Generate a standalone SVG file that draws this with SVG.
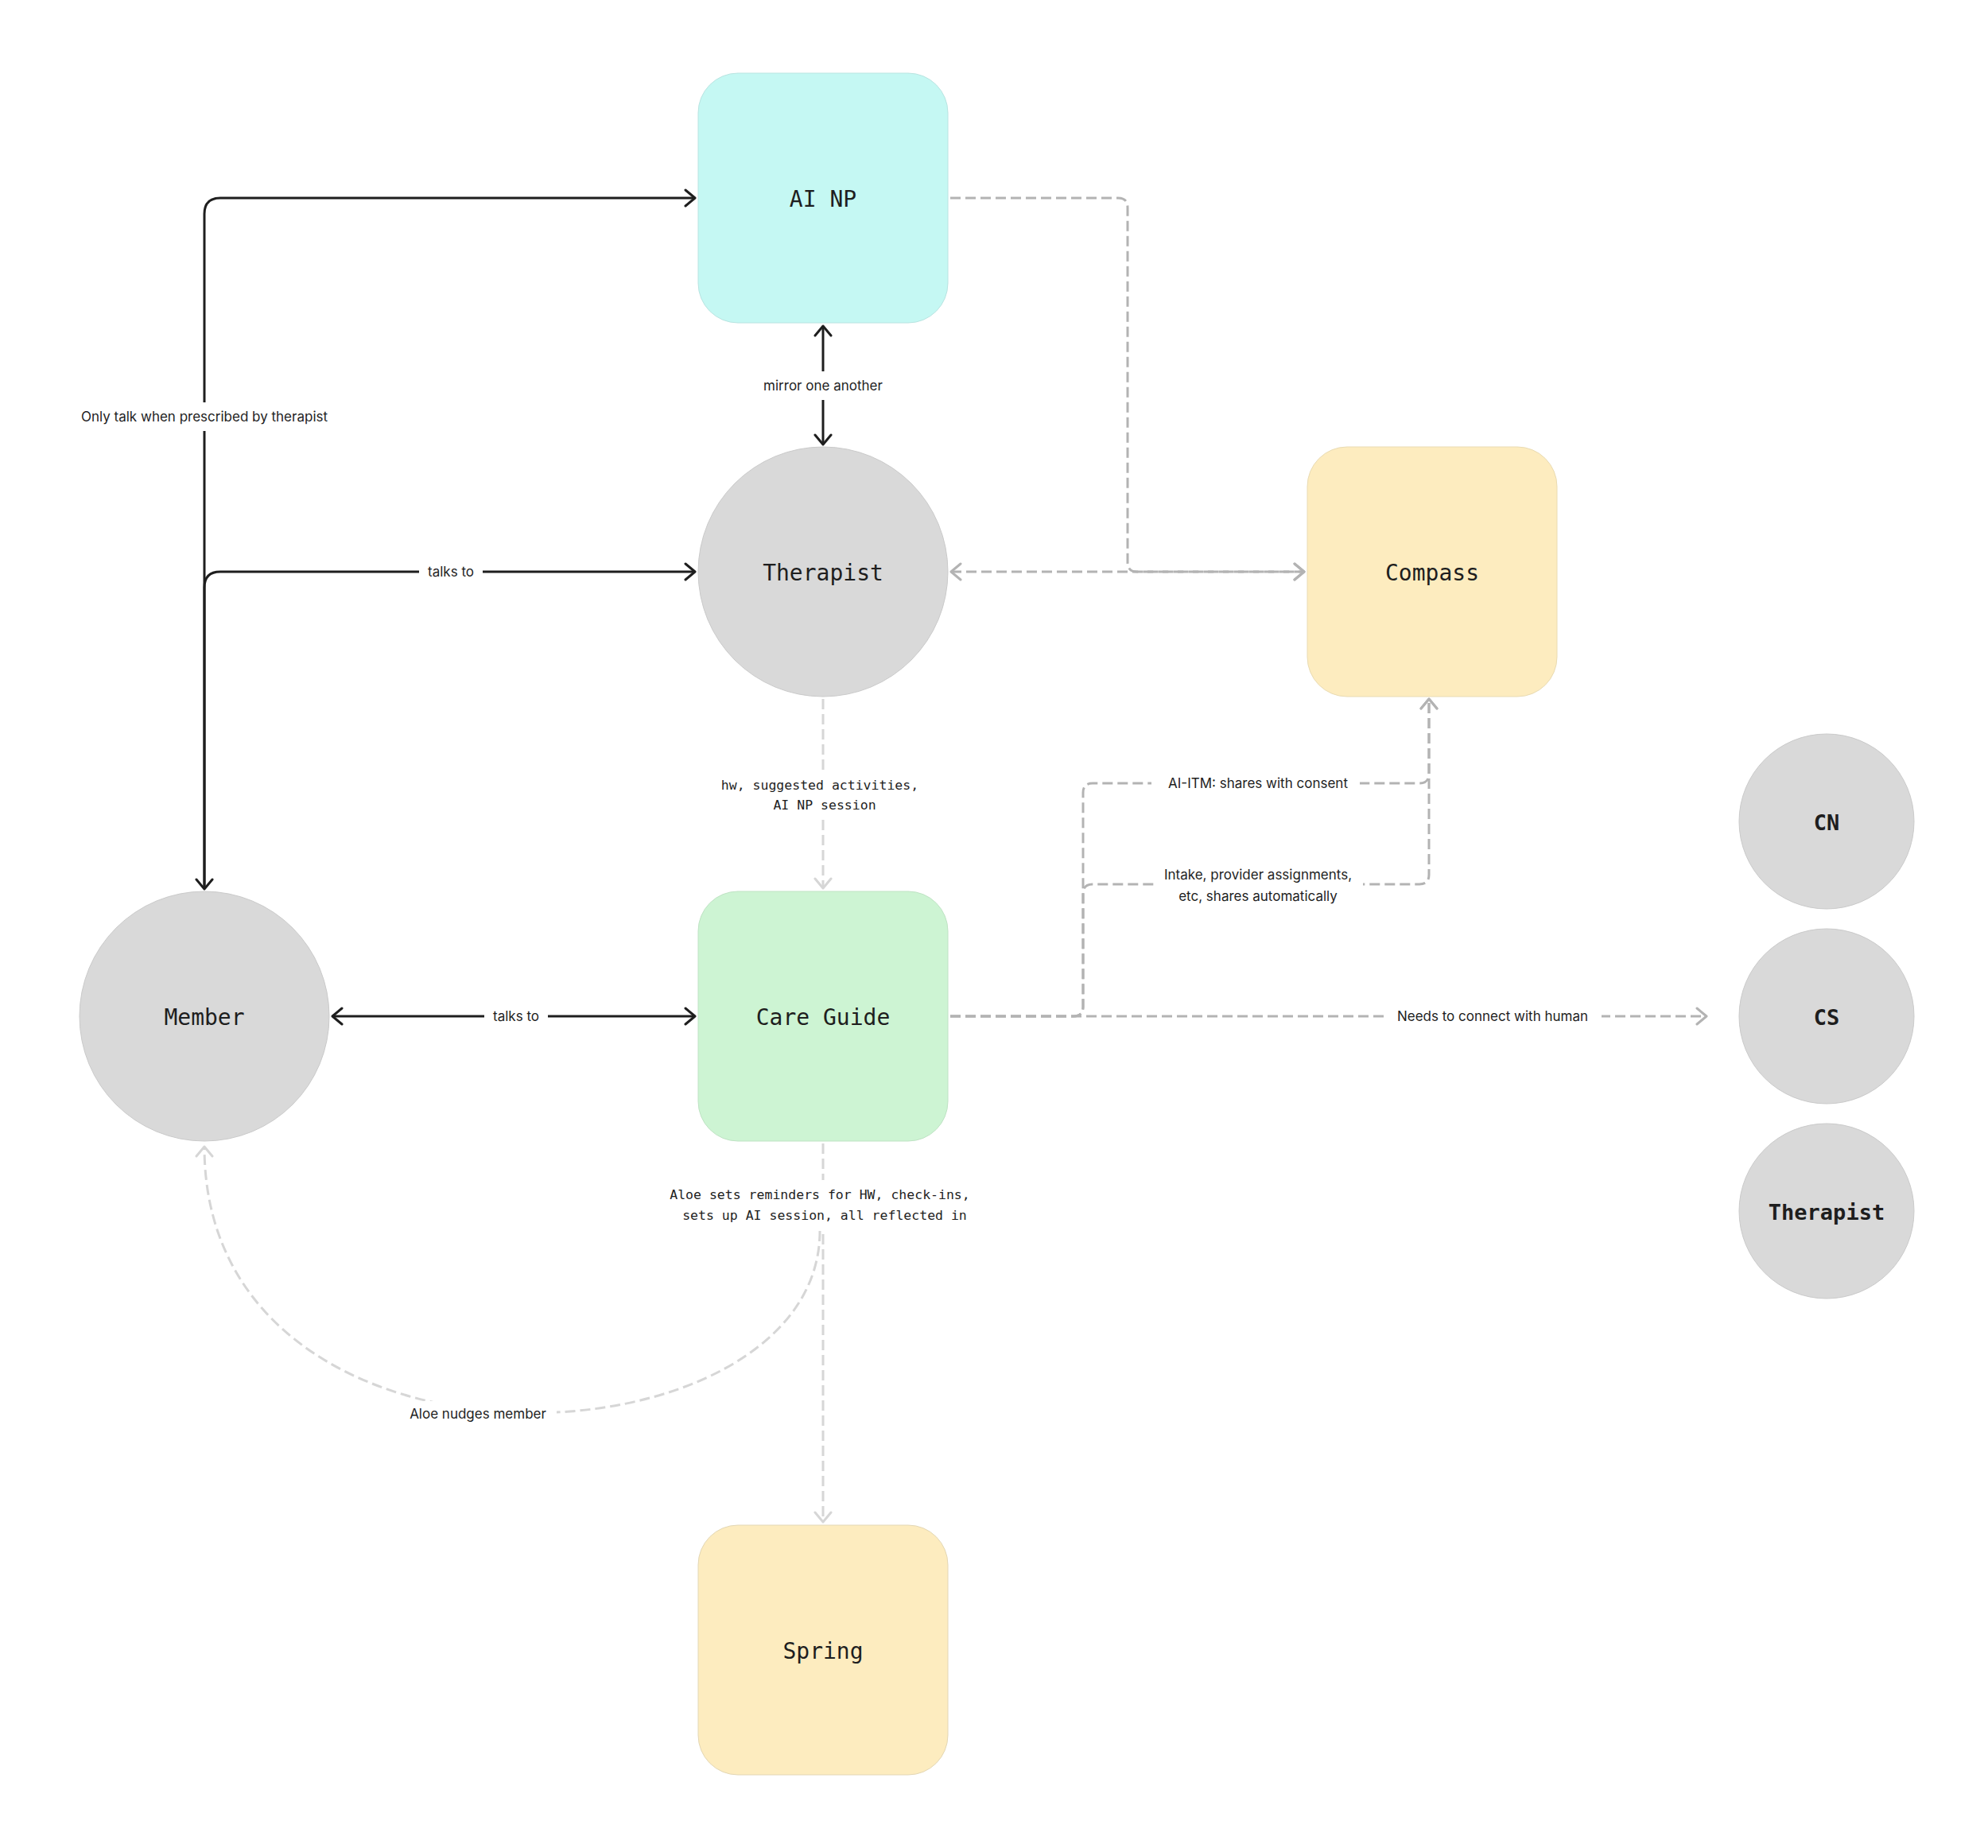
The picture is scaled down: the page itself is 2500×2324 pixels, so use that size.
<svg xmlns="http://www.w3.org/2000/svg" width="2500" height="2324" viewBox="0 0 2500 2324">
<style>
.node-text{font-family:"DejaVu Sans Mono","Liberation Mono",monospace;font-size:28px;fill:#1e1e1e;text-anchor:middle;dominant-baseline:central}
.node-bold{font-family:"DejaVu Sans Mono","Liberation Mono",monospace;font-size:27px;font-weight:bold;fill:#1e1e1e;text-anchor:middle;dominant-baseline:central}
.lbl{font-family:Inter,"Noto Sans",sans-serif;font-size:17px;fill:#1e1e1e;text-anchor:middle;dominant-baseline:central}
.lbl-mono{font-family:"DejaVu Sans Mono","Liberation Mono",monospace;font-size:16.5px;fill:#1e1e1e;text-anchor:middle;dominant-baseline:central}
.solid{fill:none;stroke:#1e1e1e;stroke-width:3}
.dash-g{fill:none;stroke:#b3b3b3;stroke-width:3;stroke-dasharray:13 6}
.dash-l{fill:none;stroke:#d6d6d6;stroke-width:3;stroke-dasharray:13 6}
.bg{fill:#ffffff}
.circ{fill:#d9d9d9;stroke:#cacaca;stroke-width:1}
</style>
<defs>
<marker id="ab" viewBox="-14 -12 16 24" refX="0" refY="0" markerWidth="16" markerHeight="24" markerUnits="userSpaceOnUse" orient="auto-start-reverse"><path d="M-12,-10 L0,0 L-12,10" fill="none" stroke="#1e1e1e" stroke-width="3" stroke-linecap="round" stroke-linejoin="round"/></marker>
<marker id="ag" viewBox="-14 -12 16 24" refX="0" refY="0" markerWidth="16" markerHeight="24" markerUnits="userSpaceOnUse" orient="auto-start-reverse"><path d="M-12,-10 L0,0 L-12,10" fill="none" stroke="#b3b3b3" stroke-width="3" stroke-linecap="round" stroke-linejoin="round"/></marker>
<marker id="al" viewBox="-14 -12 16 24" refX="0" refY="0" markerWidth="16" markerHeight="24" markerUnits="userSpaceOnUse" orient="auto-start-reverse"><path d="M-12,-10 L0,0 L-12,10" fill="none" stroke="#d6d6d6" stroke-width="3" stroke-linecap="round" stroke-linejoin="round"/></marker>
</defs>
<rect x="0" y="0" width="2500" height="2324" fill="#ffffff"/>

<g id="connectors">
  <path class="solid" d="M257,1118 V269 Q257,249 277,249 H874" marker-start="url(#ab)" marker-end="url(#ab)"/>
  <path class="solid" d="M257,1118 V739 Q257,719 277,719 H874" marker-end="url(#ab)"/>
  <path class="solid" d="M1035,410 V559" marker-start="url(#ab)" marker-end="url(#ab)"/>
  <path class="solid" d="M418,1278 H874" marker-start="url(#ab)" marker-end="url(#ab)"/>
  <path class="dash-g" d="M1195,249 H1406 Q1418,249 1418,261 V707 Q1418,719 1430,719 H1640" marker-end="url(#ag)"/>
  <path class="dash-g" d="M1196,719 H1640" marker-start="url(#ag)" marker-end="url(#ag)"/>
  <path class="dash-g" d="M1195,1278 H1350 Q1362,1278 1362,1266 V997 Q1362,985 1374,985 H1785 Q1797,985 1797,973 V879" marker-end="url(#ag)"/>
  <path class="dash-g" d="M1195,1278 H1350 Q1362,1278 1362,1266 V1124 Q1362,1112 1374,1112 H1785 Q1797,1112 1797,1100 V879" marker-end="url(#ag)"/>
  <path class="dash-g" d="M1195,1278 H2146" marker-end="url(#ag)"/>
  <path class="dash-l" d="M1035,879 V1117" marker-end="url(#al)"/>
  <path class="dash-l" d="M1035,1438 V1914" marker-end="url(#al)"/>
  <path class="dash-l" d="M1031,1548 C1031,1850 257,1890 257,1442" marker-end="url(#al)"/>

  <rect class="bg" x="86" y="506" width="342" height="36"/>
  <text class="lbl" x="257" y="524">Only talk when prescribed by therapist</text>
  <rect class="bg" x="527" y="704" width="80" height="30"/>
  <text class="lbl" x="567" y="719">talks to</text>
  <rect class="bg" x="609" y="1263" width="80" height="30"/>
  <text class="lbl" x="649" y="1278">talks to</text>
  <rect class="bg" x="946" y="467" width="178" height="36"/>
  <text class="lbl" x="1035" y="485">mirror one another</text>
  <rect class="bg" x="1448" y="970" width="262" height="30"/>
  <text class="lbl" x="1582" y="985">AI-ITM: shares with consent</text>
  <rect class="bg" x="1452" y="1086" width="262" height="56"/>
  <text class="lbl" x="1582" y="1100">Intake, provider assignments,</text>
  <text class="lbl" x="1582" y="1127">etc, shares automatically</text>
  <rect class="bg" x="1740" y="1263" width="274" height="30"/>
  <text class="lbl" x="1877" y="1278">Needs to connect with human</text>
  <rect class="bg" x="895" y="970" width="280" height="58"/>
  <text class="lbl-mono" x="1031" y="987">hw, suggested activities,</text>
  <text class="lbl-mono" x="1037" y="1012">AI NP session</text>
  <rect class="bg" x="830" y="1484" width="410" height="62"/>
  <text class="lbl-mono" x="1031" y="1502">Aloe sets reminders for HW, check-ins,</text>
  <text class="lbl-mono" x="1037" y="1528">sets up AI session, all reflected in</text>
  <rect class="bg" x="500" y="1762" width="200" height="32"/>
  <text class="lbl" x="601" y="1778">Aloe nudges member</text>
</g>

<g id="node-ainp">
  <rect x="878" y="92" width="314" height="314" rx="50" ry="50" fill="#c5f8f3" stroke="#b9e4e1" stroke-width="1"/>
  <text class="node-text" x="1035" y="250">AI NP</text>
</g>
<g id="node-therapist">
  <circle class="circ" cx="1035" cy="719" r="157"/>
  <text class="node-text" x="1035" y="720">Therapist</text>
</g>
<g id="node-compass">
  <rect x="1644" y="562" width="314" height="314" rx="50" ry="50" fill="#fdecbf" stroke="#e9dbb3" stroke-width="1"/>
  <text class="node-text" x="1801" y="720">Compass</text>
</g>
<g id="node-member">
  <circle class="circ" cx="257" cy="1278" r="157"/>
  <text class="node-text" x="257" y="1279">Member</text>
</g>
<g id="node-careguide">
  <rect x="878" y="1121" width="314" height="314" rx="50" ry="50" fill="#cdf4d3" stroke="#bfe3c4" stroke-width="1"/>
  <text class="node-text" x="1035" y="1279">Care Guide</text>
</g>
<g id="node-spring">
  <rect x="878" y="1918" width="314" height="314" rx="50" ry="50" fill="#fdecbf" stroke="#e3d7b5" stroke-width="1"/>
  <text class="node-text" x="1035" y="2076">Spring</text>
</g>
<g id="node-cn">
  <circle class="circ" cx="2297" cy="1033" r="110"/>
  <text class="node-bold" x="2297" y="1034">CN</text>
</g>
<g id="node-cs">
  <circle class="circ" cx="2297" cy="1278" r="110"/>
  <text class="node-bold" x="2297" y="1279">CS</text>
</g>
<g id="node-therapist2">
  <circle class="circ" cx="2297" cy="1523" r="110"/>
  <text class="node-bold" x="2297" y="1524">Therapist</text>
</g>
</svg>
